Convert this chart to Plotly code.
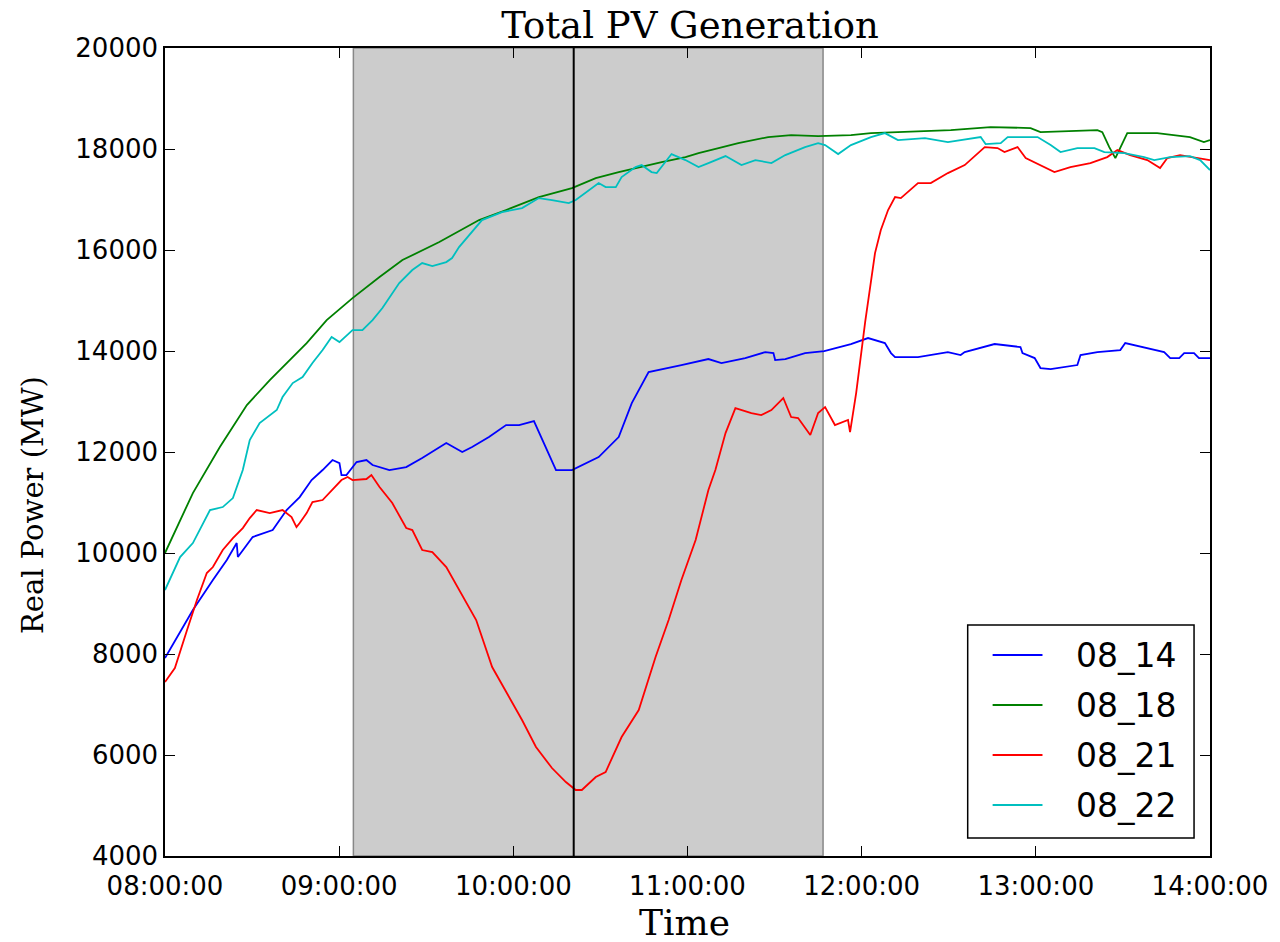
import plotly.graph_objects as go
import pandas as pd

# ---------------- data (minutes after 08:00, MW) ----------------
series_names = ["08_14", "08_18", "08_21", "08_22"]

blue_min = [0, 9.6, 16.5, 21.3, 24.7, 25.1, 30.2, 37.1, 41.9, 46.4, 50.5, 54.3, 57.7, 60.1, 60.8, 62.5,
            66.0, 69.4, 71.5, 77.3, 83.1, 88.6, 96.9, 102.4, 105.8, 111.6, 117.5, 122.0, 127.1, 134.7,
            140.2, 145.0, 149.4, 156.3, 160.8, 166.6, 171.1, 177.9, 187.2, 191.7, 199.9, 206.8, 209.6,
            210.2, 213.7, 220.5, 227.1, 236.3, 242.2, 248.0, 250.1, 251.5, 259.4, 269.7, 274.1, 275.5,
            285.8, 294.7, 295.4, 299.6, 301.6, 305.1, 314.3, 315.4, 321.2, 329.1, 330.8, 337.3, 344.2,
            346.3, 349.4, 351.1, 354.5, 356.2, 360]
blue_val = [7920, 8871, 9465, 9861, 10197, 9920, 10316, 10455, 10851, 11108, 11445, 11643, 11841, 11781,
            11544, 11544, 11801, 11841, 11742, 11643, 11702, 11880, 12177, 11999, 12098, 12296, 12534,
            12534, 12613, 11643, 11643, 11781, 11900, 12296, 12969, 13583, 13643, 13722, 13841, 13761,
            13860, 13979, 13959, 13821, 13841, 13959, 13999, 14138, 14256, 14157, 13959, 13880, 13880,
            13979, 13920, 13979, 14138, 14078, 13959, 13860, 13662, 13643, 13722, 13920, 13979, 14018,
            14157, 14078, 13979, 13860, 13860, 13959, 13959, 13860, 13860]

green_min = [0, 9.6, 18.9, 28.2, 36.1, 48.8, 55.7, 64.6, 73.9, 81.8, 94.5, 108.2, 117.5, 128.8, 140.2,
             148.4, 156.3, 163.2, 171.1, 179.3, 183.8, 190.7, 197.5, 207.8, 215.7, 225.0, 236.3, 243.2,
             251.5, 270.7, 284.4, 298.2, 301.6, 321.2, 322.9, 325.3, 327.4, 329.1, 331.5, 341.8, 353.1,
             357.9, 360]
green_val = [10000, 11187, 12098, 12930, 13425, 14157, 14613, 15048, 15464, 15801, 16157, 16593, 16791,
             17048, 17226, 17424, 17543, 17642, 17741, 17840, 17919, 18018, 18117, 18236, 18276, 18256,
             18276, 18315, 18335, 18375, 18434, 18414, 18335, 18375, 18335, 18038, 17820, 18038, 18315,
             18315, 18236, 18137, 18177]

red_min = [0, 3.4, 7.6, 11.0, 14.4, 16.5, 19.9, 23.4, 26.8, 29.2, 31.6, 36.1, 40.5, 43.6, 45.3, 46.4,
           48.8, 50.8, 54.3, 57.7, 60.8, 62.9, 64.6, 69.4, 71.1, 73.9, 78.3, 83.1, 85.2, 88.6, 92.1,
           96.9, 101.3, 107.2, 112.7, 118.5, 123.0, 127.8, 133.3, 138.1, 141.5, 143.6, 148.4, 151.8,
           157.3, 163.2, 169.0, 173.5, 177.9, 182.8, 187.2, 189.6, 193.1, 196.5, 198.6, 202.0, 205.4,
           208.9, 213.0, 215.7, 218.1, 222.3, 225.0, 227.4, 230.8, 235.3, 236.0, 238.1, 241.2, 244.6,
           246.6, 249.1, 251.5, 253.5, 259.4, 263.8, 269.7, 275.5, 282.4, 286.8, 289.2, 293.7, 296.5,
           301.6, 306.4, 311.9, 318.8, 324.6, 328.1, 332.5, 338.4, 342.8, 345.3, 349.7, 354.5, 360]
red_val = [7445, 7722, 8475, 9069, 9603, 9722, 10059, 10296, 10494, 10692, 10851, 10791, 10851, 10712,
           10514, 10593, 10791, 11009, 11049, 11247, 11445, 11504, 11445, 11465, 11544, 11306, 10989,
           10494, 10455, 10059, 10019, 9722, 9267, 8673, 7742, 7148, 6693, 6158, 5742, 5465, 5307, 5307,
           5564, 5663, 6356, 6891, 7940, 8673, 9465, 10257, 11247, 11643, 12375, 12870, 12831, 12771,
           12732, 12831, 13069, 12692, 12672, 12336, 12771, 12890, 12534, 12633, 12395, 13167, 14573,
           15939, 16395, 16791, 17048, 17028, 17325, 17325, 17523, 17682, 18038, 18018, 17939, 18038,
           17820, 17682, 17543, 17642, 17721, 17840, 17979, 17880, 17781, 17622, 17820, 17880, 17840,
           17781]

cyan_min = [0, 5.2, 9.6, 15.5, 19.9, 23.4, 26.8, 29.2, 32.6, 38.5, 40.5, 44.0, 47.4, 50.8, 54.3, 57.4,
            60.1, 64.6, 68.0, 71.5, 74.9, 80.7, 85.2, 88.6, 92.1, 96.9, 98.9, 101.3, 109.2, 116.1, 123.0,
            128.8, 133.3, 139.1, 141.5, 147.0, 149.4, 151.8, 155.3, 157.3, 162.1, 164.2, 167.6, 169.4,
            174.5, 179.3, 183.8, 187.2, 193.1, 198.6, 203.4, 208.9, 213.7, 220.5, 225.0, 227.4, 231.9,
            236.3, 243.2, 248.0, 252.5, 261.8, 269.7, 281.0, 282.7, 287.9, 290.3, 300.6, 305.1, 308.5,
            314.3, 320.2, 323.6, 330.5, 337.3, 340.8, 346.3, 353.1, 356.6, 360]
cyan_val = [9267, 9920, 10197, 10851, 10910, 11088, 11643, 12237, 12573, 12831, 13088, 13365, 13484,
            13761, 14019, 14276, 14177, 14415, 14415, 14613, 14850, 15345, 15603, 15741, 15682, 15761,
            15840, 16058, 16593, 16751, 16830, 17028, 16989, 16929, 16989, 17226, 17325, 17246, 17246,
            17444, 17642, 17682, 17543, 17523, 17900, 17781, 17642, 17721, 17860, 17682, 17781, 17721,
            17880, 18038, 18117, 18078, 17900, 18078, 18236, 18315, 18177, 18216, 18137, 18236, 18098,
            18117, 18236, 18236, 18078, 17939, 18018, 18018, 17939, 17919, 17840, 17781, 17840, 17860,
            17781, 17583]

y_ticks = [4000, 6000, 8000, 10000, 12000, 14000, 16000, 18000, 20000]
y_tick_labels = [str(v) for v in y_ticks]

# event window (minutes after 08:00)
window_start_min = 64.9
window_end_min = 226.7
event_min = 140.8

# ---------------- figure ----------------
base = pd.Timestamp("2017-08-01 08:00:00")


def to_time(mins):
    return [base + pd.Timedelta(minutes=m) for m in mins]


W, H = 1280, 942
L, R, T, B = 165, 67, 48, 86
PW, PH = W - L - R, H - T - B


def px_x(px):
    return (px - L) / PW


def px_y(py):
    return (H - B - py) / PH


colors = ["#0000ff", "#008000", "#ff0000", "#00bfbf"]
all_min = [blue_min, green_min, red_min, cyan_min]
all_val = [blue_val, green_val, red_val, cyan_val]

fig = go.Figure()
for name, c, mm, vv in zip(series_names, colors, all_min, all_val):
    fig.add_trace(go.Scatter(x=to_time(mm), y=vv, mode="lines", name=name,
                             line=dict(color=c, width=1.8), showlegend=False))

fig.add_vrect(x0=to_time([window_start_min])[0], x1=to_time([window_end_min])[0],
              fillcolor="rgba(0,0,0,0.2)", line=dict(color="#888888", width=1.5),
              layer="below")
fig.add_vline(x=to_time([event_min])[0], line=dict(color="black", width=2))

# legend box (drawn manually to match matplotlib layout)
fig.add_shape(type="rect", xref="paper", yref="paper",
              x0=px_x(970), x1=px_x(1197), y0=px_y(838), y1=px_y(625),
              line=dict(color="black", width=1.5), fillcolor="white", layer="above")
for i, (name, c) in enumerate(zip(series_names, colors)):
    yy = px_y(655 + 50 * i)
    fig.add_shape(type="line", xref="paper", yref="paper",
                  x0=px_x(995), x1=px_x(1045), y0=yy, y1=yy,
                  line=dict(color=c, width=2), layer="above")
    fig.add_annotation(xref="paper", yref="paper", x=px_x(1077), y=yy, xanchor="left",
                       yanchor="middle", text=name, showarrow=False,
                       font=dict(family="DejaVu Sans", size=33, color="black"))

axis_common = dict(showline=True, linecolor="black", linewidth=1.5, mirror="ticks",
                   ticks="inside", ticklen=10, tickwidth=1, tickcolor="black",
                   showgrid=False, zeroline=False,
                   tickfont=dict(family="DejaVu Sans", size=26, color="black"))

# axis titles
fig.add_annotation(xref="paper", yref="paper", x=px_x(686), y=0, yshift=-(922 - (H - B)),
                   xanchor="center", yanchor="middle", text="Time", showarrow=False,
                   font=dict(family="DejaVu Serif", size=36, color="black"))
fig.add_annotation(xref="paper", yref="paper", x=0, xshift=33 - L, y=px_y(505),
                   xanchor="center", yanchor="middle", text="Real Power (MW)", showarrow=False,
                   textangle=-90, font=dict(family="DejaVu Serif", size=29, color="black"))

fig.update_layout(
    width=W, height=H,
    margin=dict(l=L, r=R, t=T, b=B),
    paper_bgcolor="white", plot_bgcolor="white",
    title=dict(text="Total PV Generation", x=690 / W, xanchor="center", y=1 - 25 / H, yanchor="middle",
               font=dict(family="DejaVu Serif", size=37, color="black")),
    showlegend=False,
    xaxis=dict(axis_common, range=[base, base + pd.Timedelta(hours=6)],
               tickformat="%H:%M:%S", dtick=3600000, tick0=base, ticklabelstandoff=6),
    yaxis=dict(axis_common, range=[4000, 20000], tickvals=y_ticks, ticktext=y_tick_labels),
)

fig.write_html("out.html")
